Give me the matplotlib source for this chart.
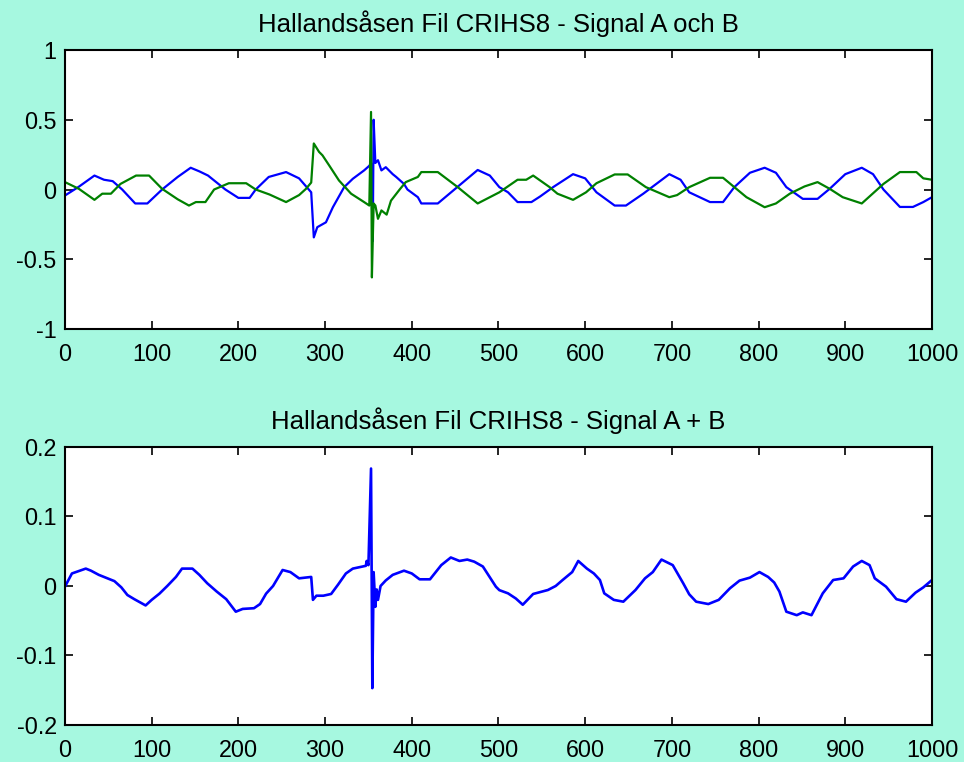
import numpy as np
from matplotlib import pyplot as plt

# signal A (blue), breakpoints
a_x = [0, 16, 34, 45, 55, 66, 81, 95, 112, 130, 145, 155, 165, 185, 200, 213, 220, 235, 255,
       270, 284, 287, 291, 301, 309, 322, 332, 345, 351, 353, 355, 356, 358, 361, 365, 370,
       378, 382, 391, 395, 407, 411, 430, 453, 476, 490, 501, 511, 522, 538, 548, 563, 586,
       600, 613, 634, 647, 667, 697, 710, 720, 744, 759, 772, 790, 807, 820, 832, 851, 868,
       882, 900, 919, 932, 944, 963, 978, 990, 1000]
a_y = [-0.043, 0.02, 0.10, 0.07, 0.06, 0.0, -0.10, -0.10, 0.0, 0.09, 0.156, 0.13, 0.10, 0.0, -0.06,
       -0.06, 0.0, 0.09, 0.125, 0.08, -0.02, -0.343, -0.27, -0.235, -0.127, 0.017, 0.077, 0.137, 0.17,
       0.19, -0.37, 0.50, 0.19, 0.21, 0.137, 0.16, 0.11, 0.09, 0.04, 0.0, -0.055, -0.10, -0.10, 0.02,
       0.14, 0.10, 0.017, -0.02, -0.09, -0.09, -0.05, 0.017, 0.11, 0.08, -0.02, -0.115, -0.115,
       -0.03, 0.11, 0.07, -0.02, -0.09, -0.09, 0.017, 0.12, 0.156, 0.12, 0.017, -0.067, -0.067,
       0.005, 0.11, 0.156, 0.11, 0.0, -0.125, -0.125, -0.09, -0.055]

# signal B (green)
b_x = [0, 16, 34, 43, 53, 64, 82, 97, 112, 130, 143, 151, 162, 172, 189, 209, 220, 236, 255,
       270, 278, 284, 287, 293, 297, 305, 316, 330, 345, 351, 353, 354, 356, 358, 361, 365, 371,
       376, 386, 393, 407, 411, 430, 453, 476, 501, 522, 532, 540, 559, 568, 586, 601, 613, 634,
       649, 670, 697, 706, 720, 744, 759, 772, 786, 807, 820, 836, 853, 868, 882, 897, 919, 944,
       963, 982, 990, 1000]
b_y = [0.053, 0.005, -0.074, -0.03, -0.03, 0.04, 0.10, 0.10, 0.005, -0.07, -0.115, -0.09, -0.09,
       0.0, 0.045, 0.045, 0.0, -0.036, -0.09, -0.04, 0.005, 0.05, 0.33, 0.27, 0.245, 0.17, 0.065,
       -0.03, -0.09, -0.115, 0.556, -0.63, -0.10, -0.115, -0.21, -0.15, -0.18, -0.08, 0.0, 0.053,
       0.09, 0.125, 0.125, 0.017, -0.10, -0.02, 0.07, 0.07, 0.10, 0.017, -0.03, -0.074, -0.02,
       0.045, 0.108, 0.108, 0.017, -0.055, -0.04, 0.017, 0.084, 0.084, 0.017, -0.055, -0.127,
       -0.10, -0.03, 0.022, 0.053, 0.005, -0.055, -0.10, 0.04, 0.125, 0.125, 0.08, 0.07]

# A + B
s_x = [0, 8, 24, 30, 39, 47, 57, 65, 72, 80, 93, 100, 109, 118, 128, 135, 147, 155, 164, 175,
       186, 197, 205, 218, 225, 232, 240, 251, 260, 270, 284, 286, 290, 298, 307, 315, 324, 332,
       347, 348, 350, 353, 354.5, 356, 357, 358, 359.5, 361, 364, 370, 378, 391, 400, 409, 421,
       434, 445, 455, 464, 472, 482, 497, 501, 511, 520, 528, 540, 557, 566, 574, 585, 592, 602,
       610, 617, 622, 633, 644, 658, 669, 678, 688, 701, 713, 720, 728, 742, 754, 767, 778, 790,
       801, 811, 818, 824, 832, 844, 851, 861, 874, 886, 898, 909, 919, 928, 934, 947, 959, 970,
       981, 990, 1000]
s_y = [-0.001, 0.018, 0.025, 0.022, 0.016, 0.012, 0.007, -0.002, -0.013, -0.019, -0.028, -0.02,
       -0.011, 0.0, 0.013, 0.025, 0.025, 0.016, 0.004, -0.008, -0.019, -0.037, -0.033, -0.032,
       -0.026, -0.011, 0.0, 0.023, 0.02, 0.011, 0.013, -0.02, -0.014, -0.014, -0.0115, 0.002,
       0.018, 0.025, 0.029, 0.036, 0.03, 0.169, -0.147, 0.02, -0.005, -0.03, -0.005, -0.02, 0.0,
       0.008, 0.016, 0.022, 0.018, 0.0096, 0.0096, 0.03, 0.041, 0.036, 0.038, 0.035, 0.028,
       -0.001, -0.006, -0.0106, -0.018, -0.027, -0.0115, -0.0058, 0.0, 0.0086, 0.02, 0.036, 0.025,
       0.018, 0.0086, -0.0106, -0.02, -0.0226, -0.0058, 0.011, 0.02, 0.038, 0.03, 0.004, -0.012,
       -0.0226, -0.026, -0.02, -0.0033, 0.0077, 0.012, 0.02, 0.013, 0.005, -0.008, -0.037, -0.042,
       -0.038, -0.042, -0.0106, 0.0086, 0.011, 0.028, 0.036, 0.03, 0.011, -0.001, -0.019, -0.0226,
       -0.0096, -0.002, 0.0086]

x_ticks = np.arange(0, 1001, 100)
top_yticks = [-1, -0.5, 0, 0.5, 1]
bottom_yticks = [-0.2, -0.1, 0, 0.1, 0.2]

plt.rcParams['font.family'] = ['Liberation Sans', 'DejaVu Sans']

bg = '#a6f8e0'
fig = plt.figure(figsize=(9.64, 7.62), dpi=100, facecolor=bg)


def style_axes(ax, yticks, ylabels):
    ax.set_xlim(0, 1000)
    ax.set_ylim(yticks[0], yticks[-1])
    ax.set_xticks(x_ticks)
    ax.set_yticks(yticks)
    ax.set_yticklabels(ylabels)
    ax.tick_params(direction='in', length=6, width=1.2, top=True, right=True,
                   labelsize=16.8, colors='black')
    ax.tick_params(axis='x', pad=10)
    ax.tick_params(axis='y', pad=6)
    for sp in ax.spines.values():
        sp.set_linewidth(1.5)


ax1 = fig.add_axes([0.0674, 0.5682, 0.8994, 0.3662])
ax1.plot(a_x, a_y, color='#0000ff', lw=1.6)
ax1.plot(b_x, b_y, color='#008000', lw=1.6)
style_axes(ax1, top_yticks, ['-1', '-0.5', '0', '0.5', '1'])
ax1.set_title('Hallandsåsen Fil CRIHS8 - Signal A och B', fontsize=18.5, pad=13)

ax2 = fig.add_axes([0.0674, 0.0486, 0.8994, 0.3648])
ax2.plot(s_x, s_y, color='#0000ff', lw=1.9)
style_axes(ax2, bottom_yticks, ['-0.2', '-0.1', '0', '0.1', '0.2'])
ax2.set_title('Hallandsåsen Fil CRIHS8 - Signal A + B', fontsize=18.5, pad=13)

fig.savefig('out.png', dpi=100, facecolor=bg)
